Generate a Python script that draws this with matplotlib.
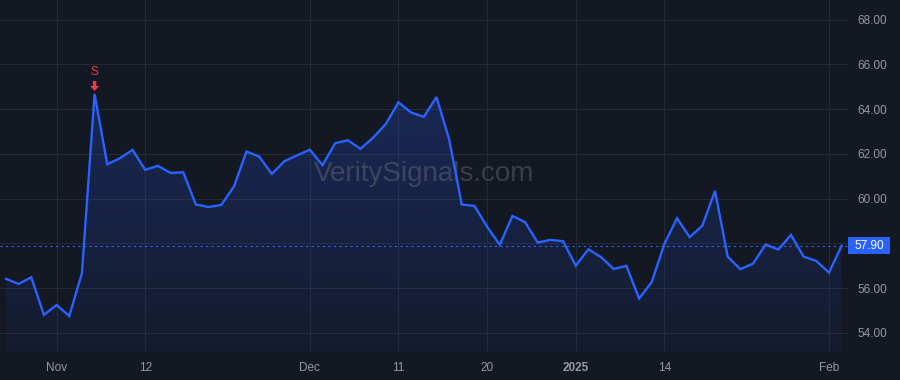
import matplotlib
matplotlib.use('Agg')
import matplotlib.pyplot as plt
import numpy as np
from matplotlib.patches import Polygon, Rectangle
from matplotlib.transforms import ScaledTranslation, blended_transform_factory

plt.rcParams['font.family'] = ['Liberation Sans', 'DejaVu Sans']

# ---- data (one point per trading day, Oct 28 2024 .. Feb 4 2025) ----
prices = [56.42, 56.19, 56.49, 54.81, 55.25, 54.76, 56.67, 64.68, 61.54, 61.81, 62.18, 61.29,
          61.47, 61.15, 61.18, 59.74, 59.63, 59.72, 60.54, 62.11, 61.88, 61.11, 61.68, 61.94,
          62.19, 61.50, 62.48, 62.61, 62.23, 62.73, 63.34, 64.31, 63.85, 63.66, 64.54, 62.66,
          59.74, 59.68, 58.75, 57.94, 59.23, 58.95, 58.04, 58.16, 58.10, 57.01, 57.74, 57.39,
          56.86, 57.00, 55.54, 56.27, 57.98, 59.13, 58.28, 58.80, 60.35, 57.41, 56.85, 57.10,
          57.95, 57.73, 58.38, 57.41, 57.22, 56.70, 57.90]
tick_idx = [4, 11, 24, 31, 38, 45, 52, 65]
tick_labels = ['Nov', '12', 'Dec', '11', '20', '2025', '14', 'Feb']
y_ticks = [54, 56, 58, 60, 62, 64, 66, 68]
signal_idx = 7
signal_label = 'S'
watermark = 'VeritySignals.com'

BG = '#141823'
GRID = '#252935'
LINE = '#2962ff'
TXT = '#9598a1'
RED = '#f23645'

fig = plt.figure(figsize=(9, 3.8), dpi=100, facecolor=BG)
ax = fig.add_axes([0, 28 / 380, 848 / 900, 352 / 380], facecolor=BG)

x = np.arange(len(prices))
y = np.array(prices)
ylo, yhi = 53.15, 68.88

# gradient fill under the line
poly_xy = np.column_stack([np.r_[x, x[-1], x[0]], np.r_[y, ylo, ylo]])
clip = Polygon(poly_xy, closed=True, facecolor='none', edgecolor='none')
ax.add_patch(clip)
n = 256
alpha = np.linspace(0.23, 0.05, n).reshape(-1, 1)
rgba = np.zeros((n, 1, 4))
rgba[..., 0] = 41 / 255
rgba[..., 1] = 98 / 255
rgba[..., 2] = 1.0
rgba[..., 3] = alpha
im = ax.imshow(rgba, aspect='auto', extent=[x[0], x[-1], ylo, y.max()],
               origin='upper', zorder=1, interpolation='bilinear')
im.set_clip_path(clip)
ax.set_xlim(-0.47, 66.5)
ax.set_ylim(ylo, yhi)

ax.plot(x, y, color=LINE, lw=1.7, zorder=3, solid_joinstyle='miter')

# last price dotted line
last = prices[-1]
ax.axhline(last, color=LINE, lw=0.8, ls=(0, (2, 3)), zorder=2)

# grid and ticks
ax.set_xticks(tick_idx)
ax.set_xticklabels(tick_labels)
ax.set_yticks(y_ticks)
ax.set_yticklabels(['' if abs(v - last) < 0.6 else f'{v:.2f}' for v in y_ticks])
ax.grid(True, color=GRID, lw=0.8, zorder=0)
ax.set_axisbelow(True)
ax.yaxis.tick_right()
ax.tick_params(axis='both', length=0, labelsize=8.5, colors=TXT)
ax.tick_params(axis='y', pad=6.5)
ax.tick_params(axis='x', pad=7.5)
for lbl in ax.get_xticklabels():
    if lbl.get_text() == '2025':
        lbl.set_fontweight('bold')
for s in ax.spines.values():
    s.set_visible(False)

# watermark
ax.text(0.5, 0.505, watermark, transform=ax.transAxes, ha='center', va='center',
        fontsize=20, color='#787b86', alpha=0.38, zorder=2)

# last price label
bt = blended_transform_factory(fig.transFigure, ax.transData)
hh = 8.5 / 22.375
fig.add_artist(Rectangle((848 / 900, last - hh), 42 / 900, 2 * hh, transform=bt,
                         facecolor=LINE, edgecolor='none', clip_on=False))
fig.text(869 / 900, last, f'{last:.2f}', transform=bt, ha='center', va='center',
         color='white', fontsize=8.5)

# signal marker
px = signal_idx
py = prices[signal_idx]
at = fig.dpi_scale_trans + ScaledTranslation(px, py, ax.transData)
arrow = np.array([(0, 3), (-4.5, 8), (-1.7, 8), (-1.7, 13), (1.7, 13), (1.7, 8), (4.5, 8)]) / 100
ax.add_patch(Polygon(arrow, closed=True, transform=at, facecolor=RED, edgecolor='none',
                     clip_on=False, zorder=5))
ax.annotate(signal_label, xy=(px, py), xytext=(0, 15.5), textcoords='offset points',
            ha='center', va='center', color=RED, fontsize=8.5, zorder=5)

fig.savefig('out.png', dpi=100, facecolor=BG)
